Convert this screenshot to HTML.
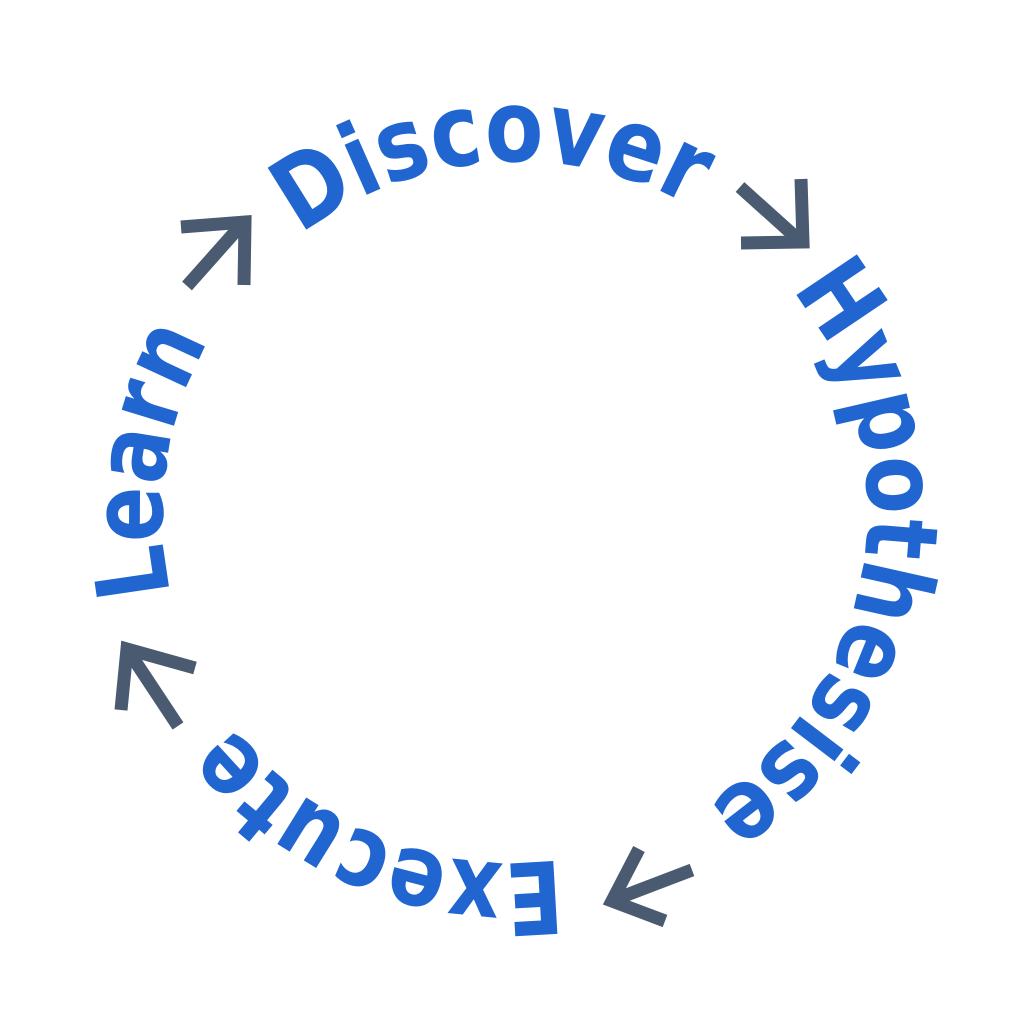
<!DOCTYPE html>
<html><head><meta charset="utf-8"><style>
html,body{margin:0;padding:0;background:#fff;}
svg{display:block}
.w{font-family:"DejaVu Sans","Liberation Sans",sans-serif;font-weight:bold;font-size:100px;fill:#2166d0;}
.ar{fill:none;stroke:#4a5a70;stroke-width:13;stroke-linejoin:miter;stroke-linecap:butt;stroke-miterlimit:10}
</style></head><body>
<svg width="1028" height="1028" viewBox="0 0 1028 1028">
<defs>
<path id="c" d="M207.6,689.5 A355,355 0 0 1 822.4,334.5 A355,355 0 0 1 207.6,689.5" fill="none"/>
</defs>
<text class="w"><textPath href="#c" startOffset="103" textLength="261" lengthAdjust="spacingAndGlyphs">Learn</textPath></text>
<text class="w"><textPath href="#c" startOffset="505" textLength="415" lengthAdjust="spacingAndGlyphs">Discover</textPath></text>
<text class="w"><textPath href="#c" startOffset="1050" textLength="588" lengthAdjust="spacingAndGlyphs">Hypothesise</textPath></text>
<text class="w"><textPath href="#c" startOffset="1795" textLength="371" lengthAdjust="spacingAndGlyphs">Execute</textPath></text>
<!-- top right -->
<path class="ar" d="M740,187 L800,241"/>
<path class="ar" d="M801,179 L803,242 L741,243"/>
<!-- top left -->
<path class="ar" d="M187,286 L243,223"/>
<path class="ar" d="M181,227 L245,222 L244,285"/>
<!-- bottom left -->
<path class="ar" d="M178,726 L129,652"/>
<path class="ar" d="M195,668 L127,649 L121,710"/>
<!-- bottom right -->
<path class="ar" d="M692,870 L616,899"/>
<path class="ar" d="M639,849 L612,901 L665,921"/>
</svg>
</body></html>
